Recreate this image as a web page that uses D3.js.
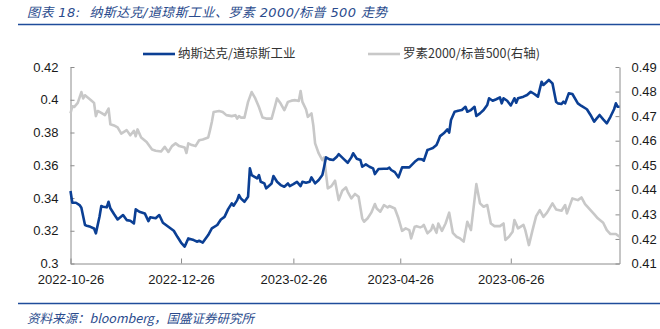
<!DOCTYPE html>
<html>
<head>
<meta charset="utf-8">
<script src="https://cdn.jsdelivr.net/npm/d3@7"></script>
<style>
  body { margin: 0; background: #fff; }
  svg { display: block; }
</style>
</head>
<body>
<svg id="chart" width="660" height="329"></svg>
<script>
// ---- text ----
const titleText = "图表 18:  纳斯达克/道琼斯工业、罗素 2000/标普 500 走势";
const sourceText = "资料来源：bloomberg，国盛证券研究所";
const seriesNames = ["纳斯达克/道琼斯工业", "罗素2000/标普500(右轴)"];

// ---- axes ----
const xDomain = ["2022-10-26", "2023-08-25"];
const xTickDates = ["2022-10-26", "2022-12-26", "2023-02-26", "2023-04-26", "2023-06-26"];
const leftTicks = [0.30, 0.32, 0.34, 0.36, 0.38, 0.40, 0.42];
const rightTicks = [0.41, 0.42, 0.43, 0.44, 0.45, 0.46, 0.47, 0.48, 0.49];

// ---- Nasdaq / Dow Jones Industrial (left axis) ----
const nasdaqDowDates = [
  "2022-10-26","2022-10-27","2022-10-29","2022-10-31","2022-11-01","2022-11-03","2022-11-04","2022-11-06","2022-11-08","2022-11-09",
  "2022-11-11","2022-11-12","2022-11-13","2022-11-15","2022-11-16","2022-11-17","2022-11-19","2022-11-21","2022-11-24","2022-11-26",
  "2022-11-28","2022-11-30","2022-12-01","2022-12-03","2022-12-06","2022-12-08","2022-12-09","2022-12-12","2022-12-14","2022-12-16",
  "2022-12-19","2022-12-22","2022-12-24","2022-12-26","2022-12-28","2022-12-30","2023-01-02","2023-01-04","2023-01-05","2023-01-07",
  "2023-01-10","2023-01-12","2023-01-15","2023-01-17","2023-01-19","2023-01-21","2023-01-23","2023-01-24","2023-01-26","2023-01-27",
  "2023-01-28","2023-01-30","2023-02-01","2023-02-02","2023-02-03","2023-02-06","2023-02-07","2023-02-08","2023-02-10","2023-02-11",
  "2023-02-12","2023-02-14","2023-02-15","2023-02-17","2023-02-19","2023-02-21","2023-02-23","2023-02-24","2023-02-26","2023-02-28",
  "2023-03-02","2023-03-03","2023-03-05","2023-03-07","2023-03-08","2023-03-10","2023-03-12","2023-03-14","2023-03-15","2023-03-16",
  "2023-03-18","2023-03-20","2023-03-22","2023-03-23","2023-03-26","2023-03-28","2023-03-30","2023-03-31","2023-04-02","2023-04-04",
  "2023-04-05","2023-04-07","2023-04-09","2023-04-11","2023-04-12","2023-04-14","2023-04-17","2023-04-19","2023-04-20","2023-04-21",
  "2023-04-23","2023-04-25","2023-04-27","2023-04-29","2023-05-01","2023-05-04","2023-05-06","2023-05-08","2023-05-09","2023-05-11",
  "2023-05-12","2023-05-14","2023-05-16","2023-05-17","2023-05-18","2023-05-20","2023-05-22","2023-05-23","2023-05-24","2023-05-26",
  "2023-05-28","2023-05-30","2023-06-01","2023-06-02","2023-06-04","2023-06-06","2023-06-07","2023-06-09","2023-06-11","2023-06-13",
  "2023-06-14","2023-06-16","2023-06-18","2023-06-20","2023-06-21","2023-06-22","2023-06-24","2023-06-26","2023-06-28","2023-06-29",
  "2023-06-30","2023-07-03","2023-07-05","2023-07-07","2023-07-09","2023-07-11","2023-07-13","2023-07-14","2023-07-17","2023-07-19",
  "2023-07-21","2023-07-22","2023-07-24","2023-07-25","2023-07-26","2023-07-28","2023-07-30","2023-08-02","2023-08-04","2023-08-07",
  "2023-08-09","2023-08-11","2023-08-12","2023-08-14","2023-08-16","2023-08-18","2023-08-20","2023-08-22","2023-08-23","2023-08-24",
  "2023-08-25"
];
const nasdaqDowValues = [
  0.3443,0.3371,0.3371,0.3357,0.3340,0.3235,0.3231,0.3224,0.3214,0.3184,
  0.3285,0.3351,0.3347,0.3343,0.3377,0.3337,0.3302,0.3269,0.3296,0.3265,
  0.3261,0.3245,0.3331,0.3316,0.3306,0.3259,0.3282,0.3276,0.3296,0.3249,
  0.3224,0.3200,0.3163,0.3128,0.3103,0.3153,0.3143,0.3133,0.3139,0.3128,
  0.3174,0.3214,0.3235,0.3269,0.3285,0.3332,0.3367,0.3353,0.3387,0.3418,
  0.3398,0.3377,0.3408,0.3581,0.3540,0.3520,0.3540,0.3499,0.3489,0.3459,
  0.3469,0.3489,0.3534,0.3499,0.3479,0.3469,0.3489,0.3473,0.3485,0.3499,
  0.3473,0.3499,0.3493,0.3499,0.3526,0.3489,0.3510,0.3540,0.3591,0.3648,
  0.3636,0.3632,0.3652,0.3668,0.3636,0.3615,0.3648,0.3673,0.3640,0.3632,
  0.3591,0.3605,0.3591,0.3581,0.3546,0.3577,0.3579,0.3579,0.3585,0.3571,
  0.3558,0.3526,0.3587,0.3587,0.3587,0.3621,0.3638,0.3636,0.3628,0.3693,
  0.3697,0.3705,0.3723,0.3750,0.3778,0.3795,0.3819,0.3799,0.3876,0.3927,
  0.3933,0.3937,0.3957,0.3927,0.3937,0.3957,0.3901,0.3917,0.3937,0.3968,
  0.4009,0.3994,0.4003,0.4015,0.3978,0.4009,0.3994,0.3965,0.4009,0.3982,
  0.4009,0.4019,0.4029,0.4049,0.4035,0.4019,0.4110,0.4090,0.4121,0.4100,
  0.3988,0.3978,0.3974,0.3988,0.3978,0.4039,0.4035,0.3978,0.3962,0.3942,
  0.3907,0.3866,0.3880,0.3907,0.3880,0.3856,0.3896,0.3942,0.3978,0.3957,
  0.3957
];

// ---- Russell 2000 / S&P 500 (right axis) ----
const russellSpxDates = [
  "2022-10-26","2022-10-27","2022-10-28","2022-10-30","2022-11-01","2022-11-02","2022-11-03","2022-11-06","2022-11-08","2022-11-09",
  "2022-11-10","2022-11-12","2022-11-14","2022-11-16","2022-11-17","2022-11-19","2022-11-21","2022-11-23","2022-11-26","2022-11-28",
  "2022-11-30","2022-12-01","2022-12-02","2022-12-04","2022-12-07","2022-12-10","2022-12-12","2022-12-15","2022-12-17","2022-12-19",
  "2022-12-21","2022-12-23","2022-12-25","2022-12-28","2022-12-29","2022-12-30","2023-01-01","2023-01-03","2023-01-05","2023-01-07",
  "2023-01-10","2023-01-11","2023-01-12","2023-01-13","2023-01-16","2023-01-18","2023-01-20","2023-01-23","2023-01-25","2023-01-26",
  "2023-01-27","2023-01-28","2023-01-30","2023-02-01","2023-02-03","2023-02-05","2023-02-07","2023-02-09","2023-02-11","2023-02-14",
  "2023-02-16","2023-02-17","2023-02-19","2023-02-21","2023-02-23","2023-02-25","2023-02-27","2023-03-01","2023-03-02","2023-03-03",
  "2023-03-05","2023-03-06","2023-03-08","2023-03-09","2023-03-10","2023-03-12","2023-03-14","2023-03-15","2023-03-16","2023-03-17",
  "2023-03-19","2023-03-21","2023-03-23","2023-03-25","2023-03-27","2023-03-28","2023-03-30","2023-04-01","2023-04-03","2023-04-05",
  "2023-04-06","2023-04-08","2023-04-10","2023-04-12","2023-04-13","2023-04-15","2023-04-17","2023-04-19","2023-04-20","2023-04-23",
  "2023-04-25","2023-04-27","2023-04-29","2023-05-01","2023-05-02","2023-05-04","2023-05-05","2023-05-07","2023-05-08","2023-05-09",
  "2023-05-11","2023-05-13","2023-05-14","2023-05-16","2023-05-17","2023-05-19","2023-05-21","2023-05-23","2023-05-25","2023-05-27",
  "2023-05-29","2023-05-31","2023-06-02","2023-06-04","2023-06-07","2023-06-09","2023-06-11","2023-06-13","2023-06-15","2023-06-17",
  "2023-06-20","2023-06-22","2023-06-23","2023-06-25","2023-06-27","2023-06-28","2023-06-30","2023-07-03","2023-07-04","2023-07-06",
  "2023-07-08","2023-07-10","2023-07-12","2023-07-14","2023-07-16","2023-07-19","2023-07-21","2023-07-24","2023-07-26","2023-07-27",
  "2023-07-30","2023-08-02","2023-08-04","2023-08-06","2023-08-09","2023-08-11","2023-08-13","2023-08-16","2023-08-18","2023-08-20",
  "2023-08-23","2023-08-25"
];
const russellSpxValues = [
  0.4711,0.4740,0.4737,0.4754,0.4798,0.4772,0.4785,0.4767,0.4754,0.4700,
  0.4721,0.4713,0.4704,0.4731,0.4667,0.4662,0.4654,0.4629,0.4643,0.4622,
  0.4640,0.4618,0.4646,0.4613,0.4595,0.4564,0.4559,0.4556,0.4575,0.4554,
  0.4578,0.4589,0.4578,0.4572,0.4550,0.4589,0.4582,0.4578,0.4602,0.4605,
  0.4613,0.4643,0.4676,0.4717,0.4721,0.4717,0.4704,0.4700,0.4704,0.4690,
  0.4700,0.4694,0.4694,0.4758,0.4798,0.4772,0.4737,0.4694,0.4690,0.4690,
  0.4744,0.4772,0.4751,0.4724,0.4758,0.4763,0.4765,0.4762,0.4802,0.4758,
  0.4727,0.4697,0.4711,0.4663,0.4589,0.4548,0.4521,0.4532,0.4467,0.4406,
  0.4415,0.4437,0.4358,0.4396,0.4410,0.4392,0.4365,0.4383,0.4372,0.4284,
  0.4270,0.4284,0.4307,0.4342,0.4324,0.4311,0.4338,0.4328,0.4334,0.4324,
  0.4284,0.4233,0.4243,0.4236,0.4202,0.4250,0.4252,0.4247,0.4250,0.4257,
  0.4223,0.4236,0.4257,0.4225,0.4263,0.4233,0.4263,0.4307,0.4225,0.4209,
  0.4202,0.4189,0.4270,0.4236,0.4423,0.4345,0.4331,0.4338,0.4263,0.4252,
  0.4252,0.4263,0.4196,0.4209,0.4229,0.4277,0.4243,0.4257,0.4236,0.4175,
  0.4236,0.4293,0.4317,0.4290,0.4307,0.4345,0.4320,0.4315,0.4338,0.4304,
  0.4365,0.4358,0.4369,0.4342,0.4317,0.4301,0.4284,0.4266,0.4236,0.4220,
  0.4220,0.4209
];

// ---- colours ----
const blue = "#0b3f94";
const grey = "#c8c8c8";
const headerBlue = "#2a4b8d";

// ---- drawing ----
const svg = d3.select("#chart");
const parse = d3.utcParse("%Y-%m-%d");
const margin = { left: 70.5, right: 40.5, top: 67, bottom: 65.5 };
const W = 660, H = 329;

const x = d3.scaleUtc().domain(xDomain.map(parse)).range([margin.left, W - margin.right]);
const yL = d3.scaleLinear().domain([0.30, 0.42]).range([H - margin.bottom, margin.top]);
const yR = d3.scaleLinear().domain([0.41, 0.49]).range([H - margin.bottom, margin.top]);

const numFont = "'Liberation Sans', Arial, sans-serif";
const cjkFont = "'Noto Sans CJK SC', 'Noto Sans', sans-serif";
const headFont = "'DejaVu Sans', 'Noto Sans CJK SC', sans-serif";

// header
svg.append("text")
  .attr("x", 27).attr("y", 17)
  .attr("font-family", headFont).attr("font-size", 13)
  .attr("letter-spacing", 0.4)
  .attr("font-style", "italic").attr("fill", headerBlue)
  .attr("xml:space", "preserve").style("white-space", "pre")
  .text(titleText);
svg.append("line")
  .attr("x1", 18).attr("x2", 660).attr("y1", 24.5).attr("y2", 24.5)
  .attr("stroke", "#1f4d9b").attr("stroke-width", 1.5);

// footer
svg.append("line")
  .attr("x1", 18).attr("x2", 660).attr("y1", 303.5).attr("y2", 303.5)
  .attr("stroke", "#1f4d9b").attr("stroke-width", 1.5);
svg.append("text")
  .attr("x", 27).attr("y", 323)
  .attr("font-family", cjkFont).attr("font-size", 12.5)
  .attr("font-style", "italic").attr("fill", headerBlue)
  .text(sourceText);

// axes
function styleAxis(g) {
  g.selectAll("path, line").attr("stroke", "#8c8c8c");
  g.selectAll("text").attr("font-family", numFont).attr("font-size", 13).attr("fill", "#1a1a1a");
}

svg.append("g")
  .attr("transform", `translate(${margin.left},0)`)
  .call(d3.axisLeft(yL).tickValues(leftTicks).tickFormat(d3.format("~g"))
    .tickSizeInner(-4).tickSizeOuter(0).tickPadding(12))
  .call(styleAxis);

svg.append("g")
  .attr("transform", `translate(${W - margin.right},0)`)
  .call(d3.axisRight(yR).tickValues(rightTicks).tickFormat(d3.format("~g"))
    .tickSizeInner(-4).tickSizeOuter(0).tickPadding(12))
  .call(styleAxis);

svg.append("g")
  .attr("transform", `translate(0,${H - margin.bottom})`)
  .call(d3.axisBottom(x).tickValues(xTickDates.map(parse)).tickFormat(d3.utcFormat("%Y-%m-%d"))
    .tickSizeInner(-5).tickSizeOuter(0).tickPadding(11))
  .call(styleAxis);

// series
const russellData = russellSpxDates.map((d, i) => ({ date: parse(d), value: russellSpxValues[i] }));
const nasdaqData = nasdaqDowDates.map((d, i) => ({ date: parse(d), value: nasdaqDowValues[i] }));

svg.append("path")
  .datum(russellData)
  .attr("fill", "none").attr("stroke", grey).attr("stroke-width", 2.6)
  .attr("stroke-linejoin", "round")
  .attr("d", d3.line().x(d => x(d.date)).y(d => yR(d.value)));

svg.append("path")
  .datum(nasdaqData)
  .attr("fill", "none").attr("stroke", blue).attr("stroke-width", 2.6)
  .attr("stroke-linejoin", "round")
  .attr("d", d3.line().x(d => x(d.date)).y(d => yL(d.value)));

// legend
const legendItems = [
  { name: seriesNames[0], color: blue, x0: 143 },
  { name: seriesNames[1], color: grey, x0: 368 }
];
const legend = svg.append("g");
legendItems.forEach(item => {
  legend.append("line")
    .attr("x1", item.x0).attr("x2", item.x0 + 32)
    .attr("y1", 54).attr("y2", 54)
    .attr("stroke", item.color).attr("stroke-width", 2.6);
  legend.append("text")
    .attr("x", item.x0 + 35).attr("y", 54).attr("dy", "0.35em")
    .attr("font-family", cjkFont).attr("font-size", 12.5).attr("fill", "#333")
    .text(item.name);
});
</script>
</body>
</html>
